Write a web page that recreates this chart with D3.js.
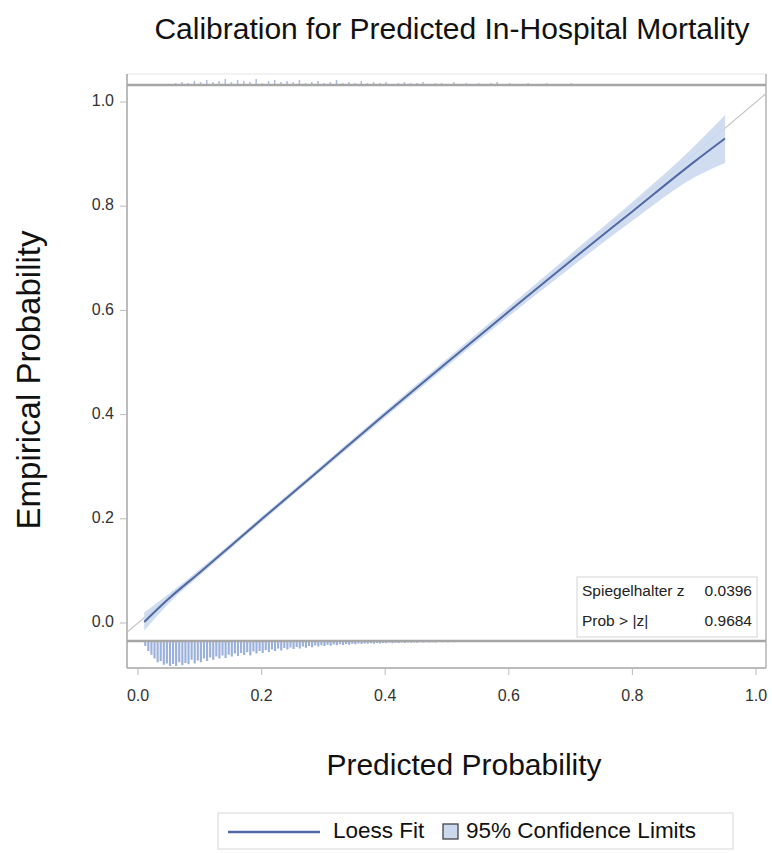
<!DOCTYPE html>
<html>
<head>
<meta charset="utf-8">
<title>Calibration</title>
<style>
  body { margin:0; background:#fff; }
  svg { font-family: "Liberation Sans", Arial, sans-serif; }
</style>
</head>
<body>
<div id="chart"></div>
<script src="https://d3js.org/d3.v7.min.js"></script>
<script>
// loess fit and 95% limits
var fitX  = [0.01, 0.05, 0.10, 0.15, 0.20, 0.30, 0.40, 0.50, 0.60, 0.70, 0.80, 0.90, 0.95];
var fitY  = [0.002, 0.047, 0.097, 0.148, 0.199, 0.300, 0.401, 0.500, 0.598, 0.695, 0.790, 0.885, 0.930];
var lower = [-0.015, 0.038, 0.091, 0.143, 0.194, 0.295, 0.395, 0.493, 0.589, 0.682, 0.772, 0.855, 0.883];
var upper = [0.020, 0.056, 0.103, 0.153, 0.204, 0.305, 0.407, 0.507, 0.607, 0.708, 0.808, 0.915, 0.975];

var ticks = [0.0, 0.2, 0.4, 0.6, 0.8, 1.0];

// histogram of predicted prob, survivors (bottom), bins of 0.005 starting at 0.010
var binStart = 0.010, binWidth = 0.005;
var nonEvents = [0.2,0.4,0.55,0.7,0.85,0.8,0.95,0.9,
  1.0,0.92,1.0,0.85,0.97,0.88,0.93,0.75,0.9,0.78,
  0.85,0.7,0.8,0.66,0.75,0.62,0.7,0.58,0.68,0.55,
  0.62,0.5,0.6,0.48,0.56,0.45,0.58,0.42,0.5,0.4,
  0.48,0.36,0.44,0.34,0.4,0.3,0.38,0.28,0.34,0.26,
  0.32,0.24,0.3,0.22,0.27,0.2,0.25,0.18,0.22,0.17,
  0.2,0.15,0.19,0.14,0.17,0.13,0.16,0.12,0.15,0.11,
  0.13,0.1,0.12,0.1,0.11,0.09,0.11,0.08,0.1,0.08,
  0.09,0.07,0.09,0.07,0.08,0.06,0.08,0.06,0.07,0.06,
  0.07,0.05,0.06,0.05,0.06,0.05,0.06,0.04,0.05,0.04,
  0.05,0.04,0.05,0.04,0.04,0.04,0.04,0.03,0.04,0.03,
  0.04,0.03,0.03,0.03,0.03,0.02,0.03,0.02,0.03,0.02,
  0.02,0.02,0.02,0.02,0.02,0.02,0.02,0.02,0.02,0.02,
  0.02,0.02,0.02,0.02,0.02,0.02,0.02,0.02,0.02,0.02];
// deaths (top), bins of 0.01 starting at 0.05
var evStart = 0.05, evWidth = 0.01;
var events = [0.1,0.2,0.3,0.2,0.4,0.3,0.5,0.3,0.4,0.6,0.3,0.5,0.4,0.3,0.6,0.2,0.4,0.5,0.3,0.4,
  0.3,0.5,0.2,0.3,0.4,0.2,0.3,0.5,0.2,0.3,0.2,0.4,0.2,0.3,0.2,0.3,0.1,0.2,0.3,0.2,
  0.2,0.3,0.1,0.2,0.2,0.1,0.3,0.1,0.2,0.1,0.2,0.1,0.2,0.3,0.1,0.2,0.1,0.1,0.2,0.1,
  0.1,0.2,0.1,0.1,0.1,0.2,0.1,0.1,0.1,0.1,0.1,0.1,0.1,0.1,0.1];

var stats = [["Spiegelhalter z", "0.0396"], ["Prob > |z|", "0.9684"]];

var W = 772, H = 853;
var pLeft = 127, pRight = 766, pTop = 74, pBottom = 668;
var topLine = 85, botLine = 641;

var svg = d3.select("#chart").append("svg").attr("width", W).attr("height", H);

var x = d3.scaleLinear().domain([0, 1]).range([138, 756]);
var y = d3.scaleLinear().domain([0, 1]).range([623, 102]);

// frame
svg.append("rect").attr("x", pLeft).attr("y", pTop).attr("width", pRight - pLeft).attr("height", pBottom - pTop)
  .attr("fill", "none").attr("stroke", "#e6e6e6").attr("stroke-width", 1);
svg.append("line").attr("x1", pLeft).attr("x2", pLeft).attr("y1", pTop).attr("y2", pBottom).attr("stroke", "#a8a8a8").attr("stroke-width", 1.5);
svg.append("line").attr("x1", pRight).attr("x2", pRight).attr("y1", pTop).attr("y2", pBottom).attr("stroke", "#b8b8b8").attr("stroke-width", 1.5);
svg.append("line").attr("x1", pLeft).attr("x2", pRight).attr("y1", pBottom).attr("y2", pBottom).attr("stroke", "#a8a8a8").attr("stroke-width", 1.5);

svg.append("clipPath").attr("id", "clip").append("rect")
  .attr("x", pLeft).attr("y", topLine).attr("width", pRight - pLeft).attr("height", botLine - topLine);

// reference diagonal
svg.append("line").attr("clip-path", "url(#clip)")
  .attr("x1", x(-0.05)).attr("y1", y(-0.05)).attr("x2", x(1.05)).attr("y2", y(1.05))
  .attr("stroke", "#c4c4c4").attr("stroke-width", 1.3);

// CI band + fit
var pts = fitX.map(function(d, i) { return {x: d, f: fitY[i], lo: lower[i], hi: upper[i]}; });
svg.append("path").datum(pts)
  .attr("d", d3.area().x(function(d) { return x(d.x); }).y0(function(d) { return y(d.lo); }).y1(function(d) { return y(d.hi); }).curve(d3.curveMonotoneX))
  .attr("fill", "#cbd9ef").attr("opacity", 0.9);
svg.append("path").datum(pts)
  .attr("d", d3.line().x(function(d) { return x(d.x); }).y(function(d) { return y(d.f); }).curve(d3.curveMonotoneX))
  .attr("fill", "none").attr("stroke", "#5069a2").attr("stroke-width", 2);

// bottom histogram
var bh = 25;
svg.append("g").selectAll("rect").data(nonEvents).enter().append("rect")
  .attr("x", function(d, i) { return x(binStart + i * binWidth); })
  .attr("y", botLine)
  .attr("width", function() { return (x(binWidth) - x(0)) * 0.7; })
  .attr("height", function(d) { return d * bh; })
  .attr("fill", "#9cb0dc");

// top rug
svg.append("g").selectAll("rect").data(events).enter().append("rect")
  .attr("x", function(d, i) { return x(evStart + i * evWidth); })
  .attr("y", function(d) { return topLine - d * 10; })
  .attr("width", 1.5)
  .attr("height", function(d) { return d * 10; })
  .attr("fill", "#b0bcdc");

// band baselines
svg.append("line").attr("x1", pLeft).attr("x2", pRight).attr("y1", topLine).attr("y2", topLine).attr("stroke", "#a6a6a6").attr("stroke-width", 2.5);
svg.append("line").attr("x1", pLeft).attr("x2", pRight).attr("y1", botLine).attr("y2", botLine).attr("stroke", "#a6a6a6").attr("stroke-width", 2.5);

// axes
var gx = svg.append("g");
ticks.forEach(function(t) {
  gx.append("line").attr("x1", x(t)).attr("x2", x(t)).attr("y1", pBottom).attr("y2", pBottom + 7).attr("stroke", "#bbb");
  gx.append("text").attr("x", x(t)).attr("y", 697).attr("text-anchor", "middle").attr("dominant-baseline", "middle")
    .attr("font-size", 16).attr("fill", "#333").text(t.toFixed(1));
});
var gy = svg.append("g");
ticks.forEach(function(t) {
  gy.append("line").attr("x1", pLeft - 7).attr("x2", pLeft).attr("y1", y(t)).attr("y2", y(t)).attr("stroke", "#bbb");
  gy.append("text").attr("x", 114).attr("y", y(t)).attr("text-anchor", "end").attr("dominant-baseline", "middle")
    .attr("font-size", 16).attr("fill", "#333").text(t.toFixed(1));
});

// titles
svg.append("text").attr("x", 452).attr("y", 31).attr("text-anchor", "middle").attr("dominant-baseline", "middle")
  .attr("font-size", 30).attr("fill", "#111").text("Calibration for Predicted In-Hospital Mortality");
svg.append("text").attr("x", 464).attr("y", 767).attr("text-anchor", "middle").attr("dominant-baseline", "middle")
  .attr("font-size", 30).attr("fill", "#111").text("Predicted Probability");
svg.append("text").attr("transform", "translate(31,380) rotate(-90)").attr("text-anchor", "middle").attr("dominant-baseline", "middle")
  .attr("font-size", 33).attr("fill", "#111").text("Empirical Probability");

// stats box
var sb = svg.append("g");
sb.append("rect").attr("x", 577).attr("y", 577).attr("width", 180).attr("height", 60)
  .attr("fill", "#fff").attr("stroke", "#d4d4d4");
stats.forEach(function(s, i) {
  sb.append("text").attr("x", 582).attr("y", 592 + i * 30).attr("dominant-baseline", "middle")
    .attr("font-size", 15.5).attr("fill", "#222").text(s[0]);
  sb.append("text").attr("x", 752).attr("y", 592 + i * 30).attr("text-anchor", "end").attr("dominant-baseline", "middle")
    .attr("font-size", 15.5).attr("fill", "#222").text(s[1]);
});

// legend
var lg = svg.append("g");
lg.append("rect").attr("x", 218).attr("y", 813).attr("width", 515).attr("height", 36)
  .attr("fill", "#fff").attr("stroke", "#d8d8d8");
lg.append("line").attr("x1", 228).attr("x2", 320).attr("y1", 832).attr("y2", 832).attr("stroke", "#5069a2").attr("stroke-width", 2.5);
lg.append("text").attr("x", 333).attr("y", 832).attr("dominant-baseline", "middle").attr("font-size", 22.5).attr("fill", "#111").text("Loess Fit");
lg.append("rect").attr("x", 443).attr("y", 824).attr("width", 15).attr("height", 15)
  .attr("fill", "#cbd9ef").attr("stroke", "#444").attr("stroke-width", 1.3);
lg.append("text").attr("x", 466).attr("y", 832).attr("dominant-baseline", "middle").attr("font-size", 22.5).attr("fill", "#111").text("95% Confidence Limits");
</script>
</body>
</html>
